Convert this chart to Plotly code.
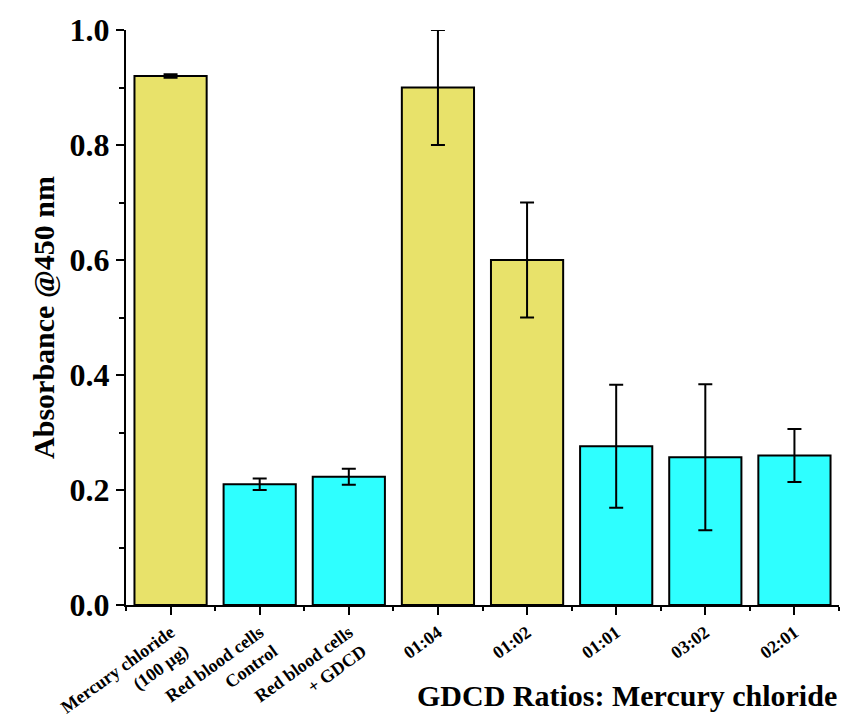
import plotly.graph_objects as go

categories = ["Mercury chloride<br>(100 µg)", "Red blood cells<br>Control", "Red blood cells<br>+ GDCD",
              "01:04", "01:02", "01:01", "03:02", "02:01"]
values = [0.920, 0.210, 0.223, 0.900, 0.600, 0.276, 0.257, 0.260]
errors = [0.003, 0.010, 0.014, 0.100, 0.100, 0.107, 0.127, 0.046]
colors = ["#E8E26A", "#2EFFFF", "#2EFFFF", "#E8E26A", "#E8E26A", "#2EFFFF", "#2EFFFF", "#2EFFFF"]
yticks = [0.0, 0.2, 0.4, 0.6, 0.8, 1.0]

xpos = list(range(len(categories)))
FONT = "Liberation Serif"

fig = go.Figure(go.Bar(
    x=xpos, y=values, width=0.81,
    marker=dict(color=colors, line=dict(color="black", width=2)),
    error_y=dict(type="data", array=errors, visible=True, color="black", thickness=2, width=7),
))

fig.update_layout(
    width=854, height=711,
    margin=dict(l=118, r=23, t=22, b=114),
    plot_bgcolor="white", paper_bgcolor="white",
    showlegend=False,
    font=dict(family=FONT, color="black"),
)
fig.update_xaxes(
    range=[-0.5, 7.5], tickvals=xpos, ticktext=categories, tickangle=-36,
    tickfont=dict(family=FONT, size=18, weight="bold"),
    automargin=False,
    showline=True, linecolor="black", linewidth=2, mirror=False,
    ticks="outside", ticklen=8, tickwidth=2, tickcolor="black",
    minor=dict(tick0=0.5, dtick=1, ticks="outside", ticklen=4, tickwidth=2, tickcolor="black"),
    showgrid=False, zeroline=False,
)
fig.update_yaxes(
    range=[0, 1.0], tickvals=yticks, ticktext=[f"{v:.1f}" for v in yticks],
    tickfont=dict(family=FONT, size=32, weight="bold"),
    automargin=False,
    title=dict(text="Absorbance @450 nm", font=dict(family=FONT, size=30, weight="bold"), standoff=6),
    showline=True, linecolor="black", linewidth=2,
    ticks="outside", ticklen=8, tickwidth=2, tickcolor="black",
    minor=dict(tick0=0.1, dtick=0.2, ticks="outside", ticklen=5, tickwidth=2, tickcolor="black"),
    showgrid=False, zeroline=False,
)
fig.add_annotation(
    text="GDCD Ratios: Mercury chloride", xref="paper", yref="paper",
    x=1.0, y=-0.125, xanchor="right", yanchor="top", showarrow=False,
    font=dict(family=FONT, size=30, weight="bold", color="black"),
)

fig.write_html("out.html")
